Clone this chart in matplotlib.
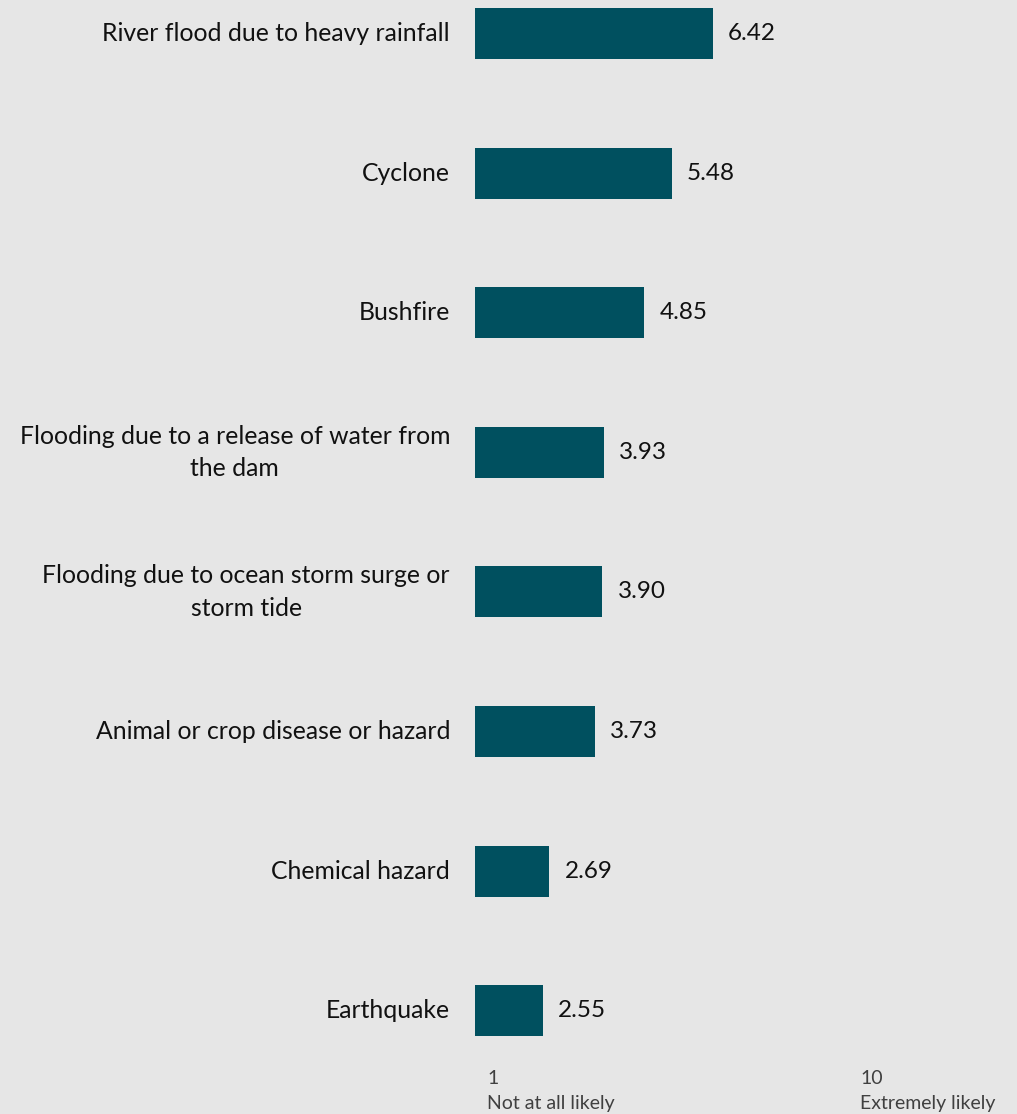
import matplotlib
matplotlib.use("Agg")
import matplotlib.pyplot as plt

categories = [
    "River flood due to heavy rainfall",
    "Cyclone",
    "Bushfire",
    "Flooding due to a release of water from\nthe dam",
    "Flooding due to ocean storm surge or\nstorm tide",
    "Animal or crop disease or hazard",
    "Chemical hazard",
    "Earthquake",
]
values = [6.42, 5.48, 4.85, 3.93, 3.90, 3.73, 2.69, 2.55]
scale_min, scale_max = 1, 10
scale_labels = ["Not at all likely", "Extremely likely"]

bg = "#E6E6E6"
bar_color = "#00505F"
W, H = 1017, 1114

plt.rcParams["font.family"] = ["Lato", "DejaVu Sans"]

fig = plt.figure(figsize=(W / 100, H / 100), dpi=100, facecolor=bg)
ax = fig.add_axes([475 / W, 0, 395 / W, 1])
ax.set_facecolor(bg)

pitch = 139.6
first_center = 33.5
ax.set_xlim(scale_min, scale_max)
ax.set_ylim((H - first_center) / pitch, -first_center / pitch)

ypos = list(range(len(categories)))
widths = [v - scale_min for v in values]
ax.barh(ypos, widths, left=scale_min, height=51 / pitch, color=bar_color)

for y, v, name in zip(ypos, values, categories):
    ax.annotate(f"{v:.2f}", xy=(v, y), xytext=(11, 0), textcoords="offset points",
                ha="left", va="center", fontsize=17.5, color="#111111")
    ax.annotate(name, xy=(scale_min, y), xytext=(-18, 0), textcoords="offset points",
                ha="right", va="center", multialignment="center",
                fontsize=17.8, color="#111111", linespacing=1.5)

for side, (x, lab) in enumerate(zip([scale_min, scale_max], scale_labels)):
    dx = 12 if side == 0 else -10
    fig.text((475 + 395 * side + dx) / W, 1 - 1091 / H, f"{x}\n{lab}",
             ha="left", va="center", fontsize=14, color="#404040", linespacing=1.55)

for s in ax.spines.values():
    s.set_visible(False)
ax.set_xticks([])
ax.set_yticks([])

fig.savefig("out.png", dpi=100, facecolor=bg)
